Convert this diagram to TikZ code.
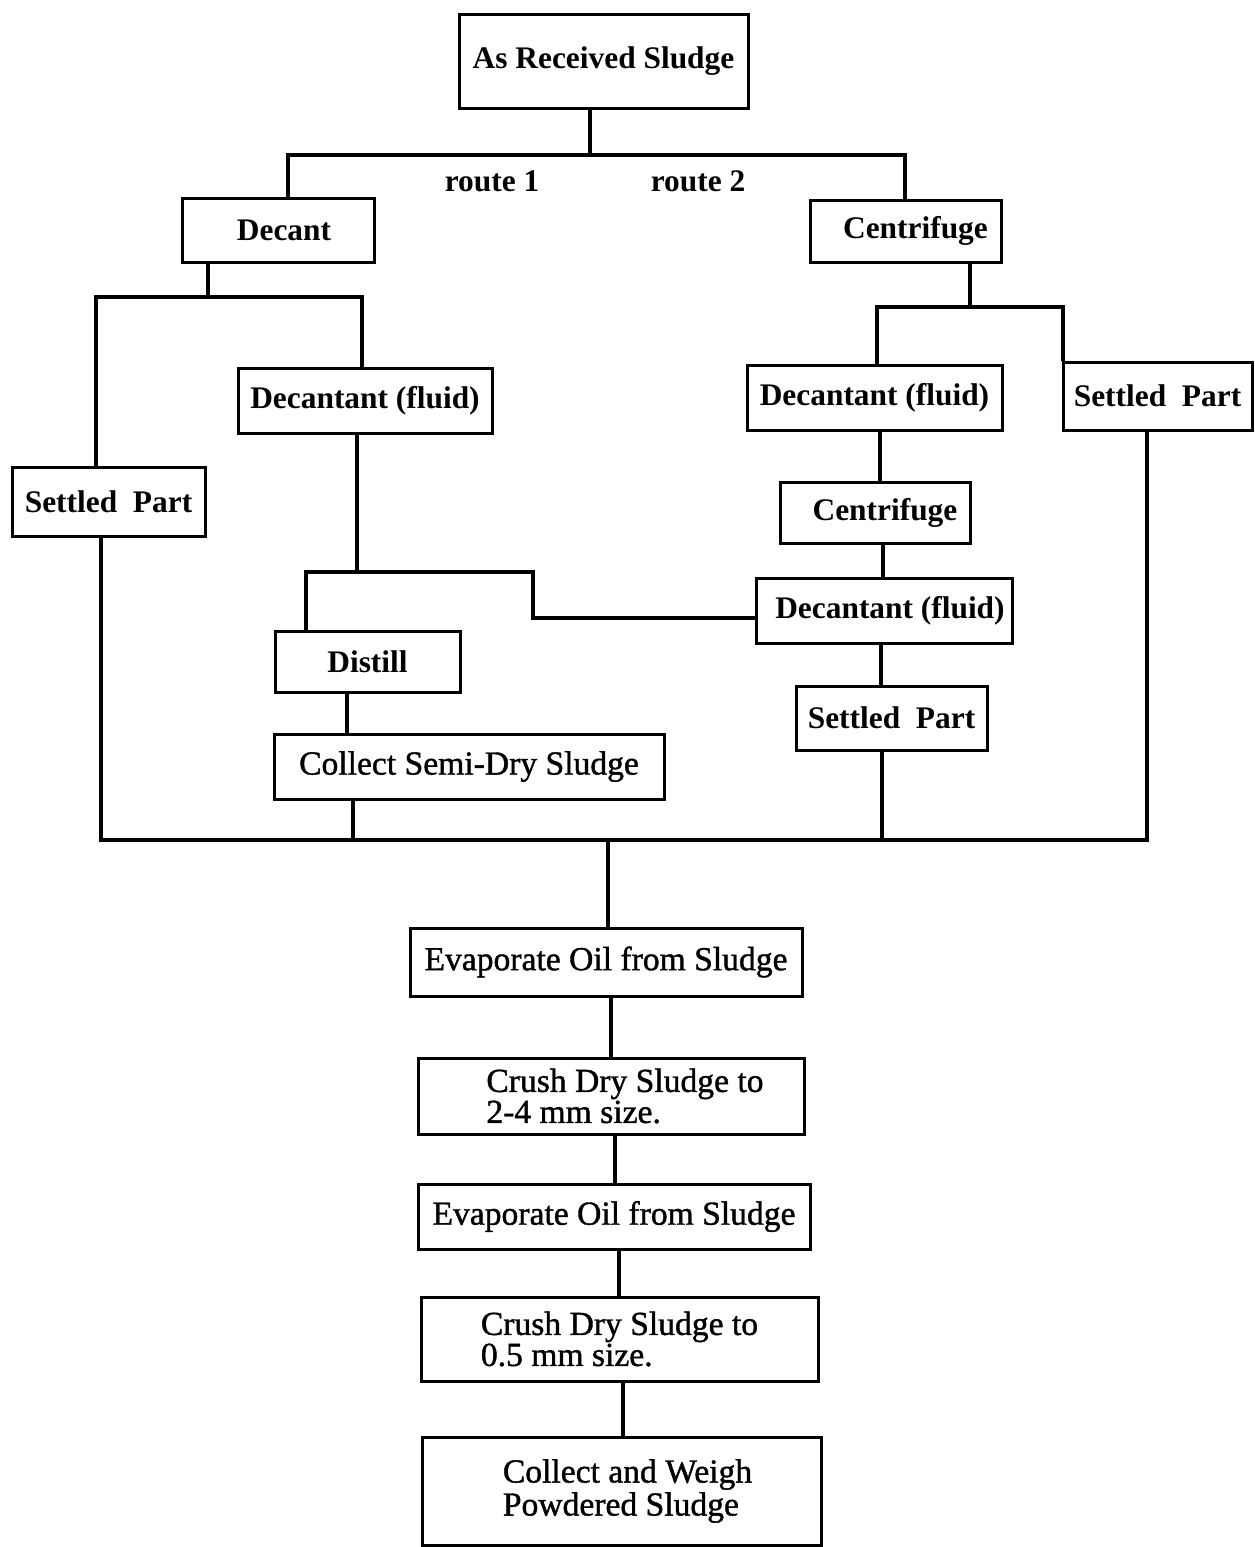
\documentclass[tikz,border=0pt]{standalone}
\usepackage{fontspec}
\setmainfont{Liberation Serif}
\newfontfamily\heavyrm[FakeBold=1.2]{Liberation Serif}
\newcommand\fbx[6][]{\node[box,#1,minimum width={(#4-#2)*0.5pt},minimum height={(#5-#3)*0.5pt}] (#6) at ({(#2+#4)/2},{(#3+#5)/2})}
\tikzset{
  box/.style={draw, line width=1.5pt, inner sep=0pt, rectangle},
  bf/.style={font=\fontsize{15.7}{16}\selectfont\bfseries},
  rg/.style={font=\heavyrm\fontsize{16.8}{15.5}\selectfont},
  conn/.style={line width=1.6pt}
}
\begin{document}
\begin{tikzpicture}[x=0.5pt,y=-0.5pt]
\useasboundingbox (0,0) rectangle (1254,1547);
% boxes
\fbx[bf]{459}{14}{748}{108}{recv} {As Received Sludge};
\fbx[bf]{182}{198}{374}{262}{decant} {\hspace*{6pt}Decant};
\fbx[bf]{810}{200}{1001}{262}{centA} {\hspace*{10pt}Centrifuge};
\fbx[bf]{238}{368}{492}{433}{decL} {Decantant (fluid)};
\fbx[bf]{12}{467}{205}{536}{setL} {Settled\ \ Part};
\fbx[bf]{747}{365}{1002}{430}{decR} {Decantant (fluid)};
\fbx[bf]{1063}{362}{1252}{430}{setR} {Settled\ \ Part};
\fbx[bf]{780}{482}{970}{543}{centB} {\hspace*{10pt}Centrifuge};
\fbx[bf]{756}{578}{1012}{643}{decM} {\hspace*{6pt}Decantant (fluid)};
\fbx[bf]{275}{631}{460}{692}{distill} {Distill};
\fbx[bf]{796}{686}{987}{750}{setM} {Settled\ \ Part};
\fbx[rg]{274}{734}{664}{799}{semidry} {Collect Semi-Dry Sludge};
\fbx[rg]{410}{928}{802}{996}{evapA} {Evaporate Oil from Sludge};
\fbx[rg,align=left]{418}{1058}{804}{1134}{crushA} {\hspace*{14pt}Crush Dry Sludge to\\\hspace*{14pt}2-4 mm size.};
\fbx[rg]{418}{1184}{810}{1249}{evapB} {Evaporate Oil from Sludge};
\fbx[rg,align=left]{421}{1297}{818}{1381}{crushB} {Crush Dry Sludge to\\0.5 mm size.};
\fbx[rg,align=left,font=\heavyrm\fontsize{16.8}{16.5}\selectfont]{422}{1437}{821}{1545}{weigh} {\hspace*{6pt}Collect and Weigh\\\hspace*{6pt}Powdered Sludge};
% labels
\node[bf] (r1) at (492,181) {route 1};
\node[bf] (r2) at (698,181) {route 2};
% junction coordinates
\coordinate (t1) at (590,155);
\coordinate (tl) at (288,155);
\coordinate (tr) at (905,155);
\coordinate (d1) at (208,297);
\coordinate (dl) at (96,297);
\coordinate (dr) at (362,297);
\coordinate (e1) at (357,572);
\coordinate (el) at (306,572);
\coordinate (er) at (533,572);
\coordinate (er2) at (533,618);
\coordinate (c1) at (970,307);
\coordinate (cl) at (877,307);
\coordinate (cr) at (1063,307);
\coordinate (bl) at (101,840);
\coordinate (bs) at (353,840);
\coordinate (bm) at (882,840);
\coordinate (br) at (1147,840);
\coordinate (bc) at (608,840);
% connectors
\draw[conn] (recv.south -| t1) -- (t1);
\draw[conn] (decant.north -| tl) -- (tl) -- (tr) -- (centA.north -| tr);
\draw[conn] (decant.south -| d1) -- (d1);
\draw[conn] (setL.north -| dl) -- (dl) -- (dr) -- (decL.north -| dr);
\draw[conn] (decL.south -| e1) -- (e1);
\draw[conn] (distill.north -| el) -- (el) -- (er) -- (er2) -- (decM.west |- er2);
\draw[conn] (distill.south -| 347,0) -- (semidry.north -| 347,0);
\draw[conn] (centA.south -| c1) -- (c1);
\draw[conn] (decR.north -| cl) -- (cl) -- (cr) -- (setR.north -| cr);
\draw[conn] (decR.south -| 880,0) -- (centB.north -| 880,0);
\draw[conn] (centB.south -| 883,0) -- (decM.north -| 883,0);
\draw[conn] (decM.south -| 881,0) -- (setM.north -| 881,0);
\draw[conn] (setL.south -| bl) -- (bl);
\draw[conn] (semidry.south -| bs) -- (bs);
\draw[conn] (setM.south -| bm) -- (bm);
\draw[conn] (setR.south -| br) -- (br);
\draw[conn] ([xshift=-0.8pt]bl) -- ([xshift=0.8pt]br);
\draw[conn] (bc) -- (evapA.north -| bc);
\draw[conn] (evapA.south -| 611,0) -- (crushA.north -| 611,0);
\draw[conn] (crushA.south -| 615,0) -- (evapB.north -| 615,0);
\draw[conn] (evapB.south -| 619,0) -- (crushB.north -| 619,0);
\draw[conn] (crushB.south -| 623,0) -- (weigh.north -| 623,0);
\end{tikzpicture}
\end{document}
